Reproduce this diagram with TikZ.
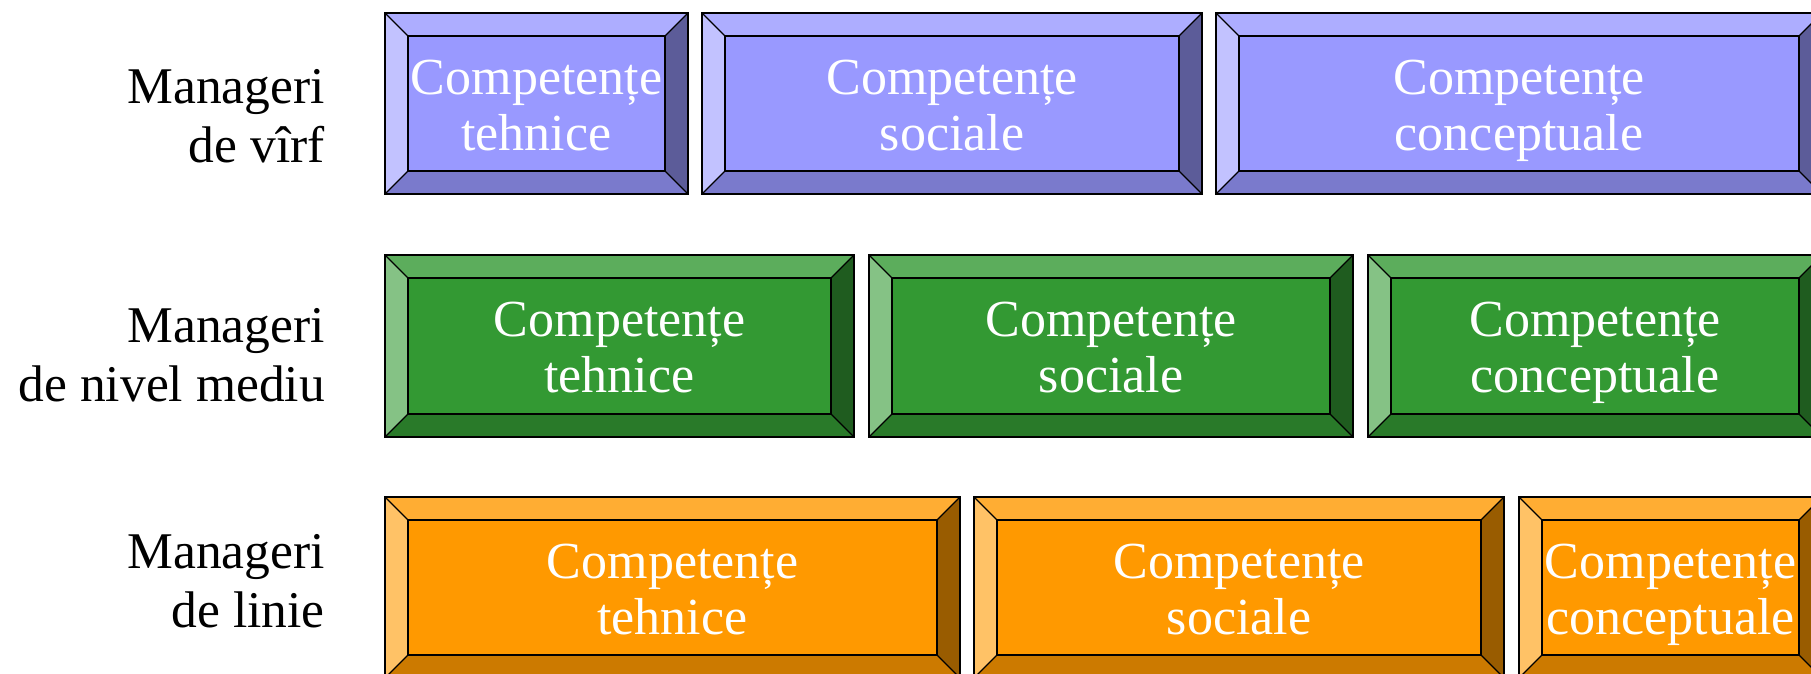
\documentclass[tikz,border=0pt]{standalone}
\usepackage{fontspec}
\setmainfont{Liberation Serif}
\definecolor{bluef}{HTML}{9999FF}
\definecolor{greenf}{HTML}{339933}
\definecolor{orangef}{HTML}{FF9900}
\newcommand\bevbox[7]{% name, x1, y1, x2, y2, colour, text
  \fill[#6!80!white] (#2,#3) -- (#4,#3) -- (#4-23,#3+23) -- (#2+23,#3+23) -- cycle;
  \fill[#6!60!white] (#2,#3) -- (#2+23,#3+23) -- (#2+23,#5-23) -- (#2,#5) -- cycle;
  \fill[#6!80!black] (#2,#5) -- (#2+23,#5-23) -- (#4-23,#5-23) -- (#4,#5) -- cycle;
  \fill[#6!60!black] (#4,#3) -- (#4,#5) -- (#4-23,#5-23) -- (#4-23,#3+23) -- cycle;
  \fill[#6] (#2+23,#3+23) rectangle (#4-23,#5-23);
  \draw[bevline] (#2,#3) rectangle (#4,#5);
  \draw[bevline] (#2+23,#3+23) rectangle (#4-23,#5-23);
  \draw[bevline] (#2,#3) -- (#2+23,#3+23) (#4,#3) -- (#4-23,#3+23)
                 (#2,#5) -- (#2+23,#5-23) (#4,#5) -- (#4-23,#5-23);
  \node[boxtext] (#1) at ({(#2+#4)/2},#3+137) {#7};
}
\begin{document}
\begin{tikzpicture}[x=1pt,y=-1pt,
  bevline/.style={draw=black,line width=1.3pt,line join=miter},
  boxtext/.style={text=white,font=\fontsize{52}{56}\selectfont,align=center,anchor=base,inner sep=0pt},
  lbl/.style={font=\fontsize{51.5}{59}\selectfont,align=right,anchor=base east,inner sep=0pt}]
\useasboundingbox (0,0) rectangle (1811,674);
\clip (0,0) rectangle (1811,674);
\fill[white] (0,0) rectangle (1811,674);
% labels
\node[lbl] (l1) at (325,162) {Manageri\\de vîrf};
\node[lbl] (l2) at (325,401) {Manageri\\de nivel mediu};
\node[lbl] (l3) at (325,627) {Manageri\\de linie};
% row 1
\bevbox{a1}{385}{13}{688}{194}{bluef}{Competențe\\tehnice}
\bevbox{a2}{702}{13}{1202}{194}{bluef}{Competențe\\sociale}
\bevbox{a3}{1216}{13}{1822}{194}{bluef}{Competențe\\conceptuale}
% row 2
\bevbox{b1}{385}{255}{854}{437}{greenf}{Competențe\\tehnice}
\bevbox{b2}{869}{255}{1353}{437}{greenf}{Competențe\\sociale}
\bevbox{b3}{1368}{255}{1822}{437}{greenf}{Competențe\\conceptuale}
% row 3
\bevbox{c1}{385}{497}{960}{678}{orangef}{Competențe\\tehnice}
\bevbox{c2}{974}{497}{1504}{678}{orangef}{Competențe\\sociale}
\bevbox{c3}{1519}{497}{1822}{678}{orangef}{Competențe\\conceptuale}
\end{tikzpicture}
\end{document}
